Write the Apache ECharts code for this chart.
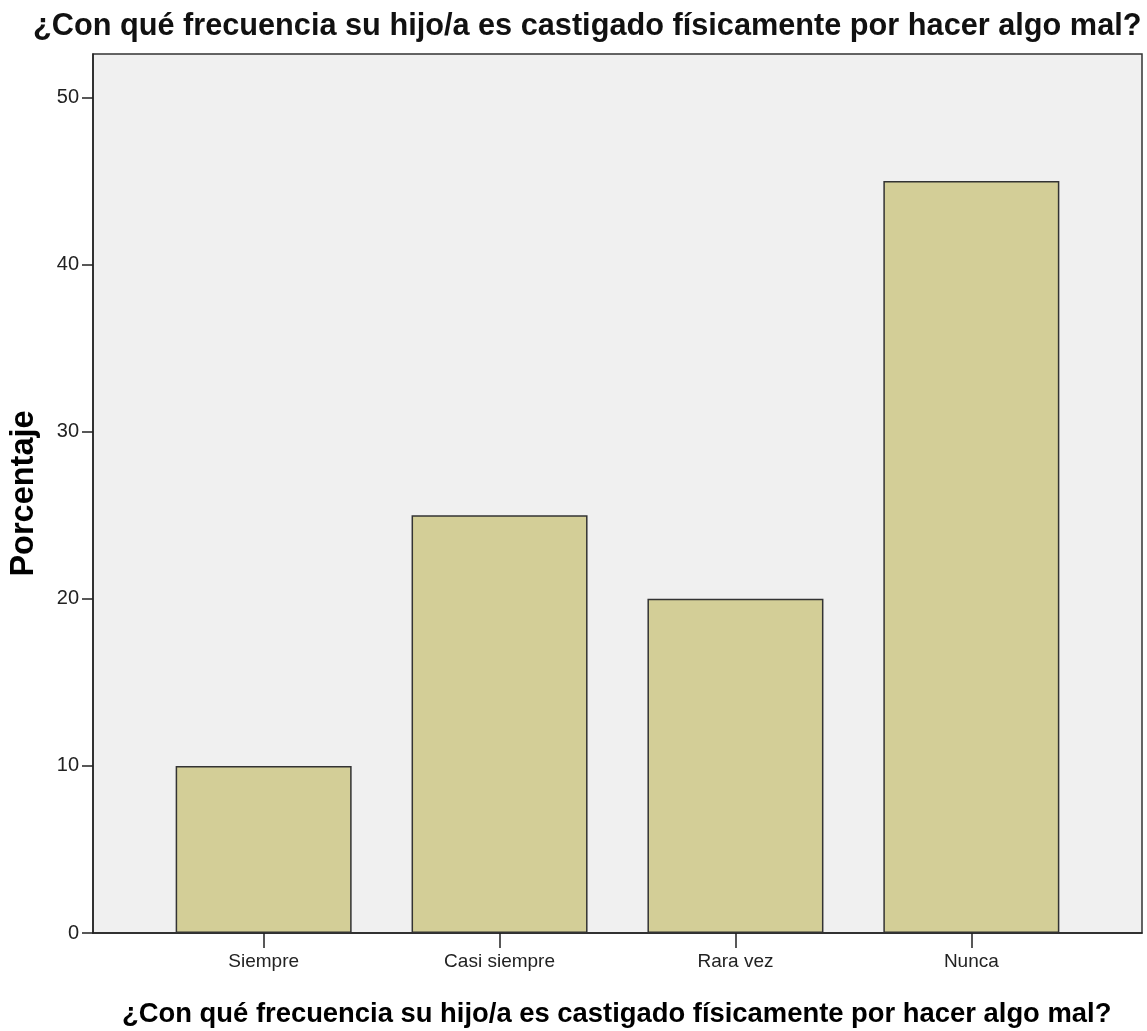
<!DOCTYPE html>
<html>
<head>
<meta charset="utf-8">
<script src="https://cdn.jsdelivr.net/npm/echarts@6/dist/echarts.min.js"></script>
<style>
  html, body { margin: 0; padding: 0; background: #fff; }
  #main { width: 1147px; height: 1031px; }
</style>
</head>
<body>
<div id="main"></div>
<script>
var categories = ['Siempre', 'Casi siempre', 'Rara vez', 'Nunca'];
var values = [10, 25, 20, 45];
var categoryPositions = [0, 1, 2, 3];

var title = '¿Con qué frecuencia su hijo/a es castigado físicamente por hacer algo mal?';

var chartDom = document.getElementById('main');
var myChart = echarts.init(chartDom);
var option;

var barData = values.map(function (v, i) { return [categoryPositions[i], v]; });

option = {
  animation: false,
  title: [
    {
      text: title,
      left: 33,
      top: 11,
      padding: 0,
      textStyle: { fontFamily: 'Liberation Sans', fontSize: 30.7, fontWeight: 'bold', color: '#111' }
    },
    {
      // x axis title, centred under the plot area
      text: title,
      left: 122,
      top: 1001,
      padding: 0,
      textStyle: { fontFamily: 'Liberation Sans', fontSize: 27.4, fontWeight: 'bold', color: '#000' }
    }
  ],
  grid: {
    left: 92,
    right: 5,
    top: 54,
    bottom: 98,
    show: true,
    backgroundColor: '#f0f0f0',
    borderColor: '#333',
    borderWidth: 1.5
  },
  xAxis: {
    type: 'value',
    min: -0.7234,
    max: 3.7234,
    splitLine: { show: false },
    axisLine: { show: true, onZero: false, lineStyle: { color: '#222', width: 1.5 } },
    axisTick: { show: true, length: 15, customValues: categoryPositions, lineStyle: { color: '#222', width: 1.5 } },
    axisLabel: {
      customValues: categoryPositions,
      formatter: function (v) { return categories[Math.round(v)]; },
      fontFamily: 'Liberation Sans', fontSize: 19, color: '#222', margin: 19
    }
  },
  yAxis: {
    type: 'value',
    min: 0,
    max: 52.6,
    interval: 10,
    name: 'Porcentaje',
    nameLocation: 'middle',
    nameGap: 52,
    nameTextStyle: { fontFamily: 'Liberation Sans', fontSize: 32.5, fontWeight: 'bold', color: '#000' },
    splitLine: { show: false },
    axisLine: { show: true, onZero: false, lineStyle: { color: '#222', width: 1.5 } },
    axisTick: { show: true, length: 11, lineStyle: { color: '#222', width: 1.5 } },
    axisLabel: {
      showMaxLabel: false,
      fontFamily: 'Liberation Sans', fontSize: 20, color: '#222', margin: 14
    }
  },
  series: [
    {
      type: 'bar',
      data: barData,
      barWidth: 176,
      itemStyle: { color: '#d3ce97', borderColor: '#333', borderWidth: 1.5 }
    }
  ]
};

option && myChart.setOption(option);
</script>
</body>
</html>
